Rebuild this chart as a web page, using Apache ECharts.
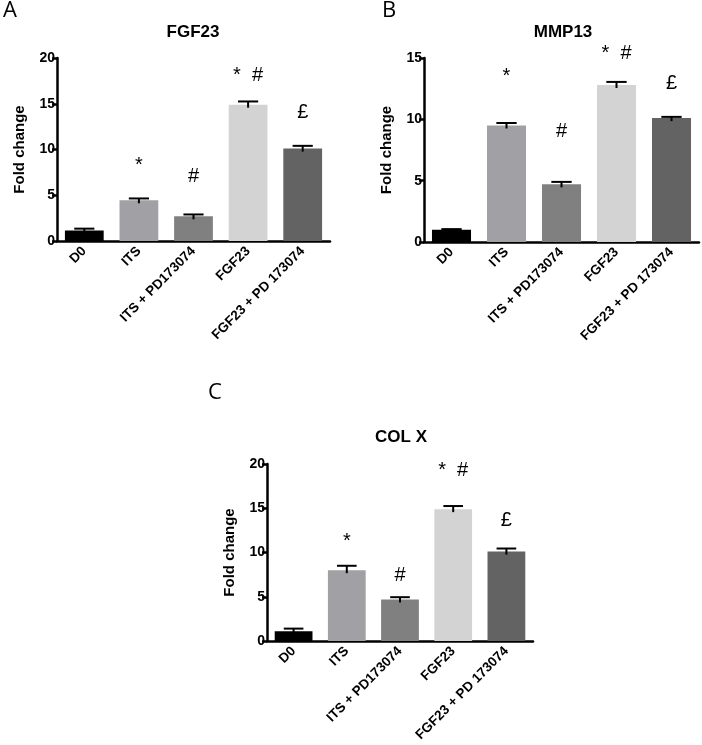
<!DOCTYPE html>
<html>
<head>
<meta charset="utf-8">
<script src="https://cdn.jsdelivr.net/npm/echarts@6/dist/echarts.min.js"></script>
<style>
html,body{margin:0;padding:0;background:#fff;}
#chart{width:702px;height:745px;}
</style>
</head>
<body>
<div id="chart"></div>
<script>
// ---- data ----
const categories = ['D0', 'ITS', 'ITS + PD173074', 'FGF23', 'FGF23 + PD 173074'];
const barColors = ['#000000', '#a1a1a5', '#808080', '#d3d3d3', '#636363'];

const fgf23Mean = [1.15, 4.45, 2.7, 14.9, 10.1];
const fgf23Err  = [0.2, 0.2, 0.2, 0.35, 0.3];
const fgf23Ann  = ['', '*', '#', '*  #', '£'];
const fgf23AnnY = [0, 8.3, 7.0, 18.1, 14.0];

const mmp13Mean = [1.0, 9.5, 4.7, 12.8, 10.1];
const mmp13Err  = [0.05, 0.2, 0.2, 0.25, 0.1];
const mmp13Ann  = ['', '*', '#', '*  #', '£'];
const mmp13AnnY = [0, 13.5, 9.0, 15.4, 12.9];

const colxMean = [1.1, 8.0, 4.7, 14.9, 10.1];
const colxErr  = [0.3, 0.5, 0.25, 0.35, 0.35];
const colxAnn  = ['', '*', '#', '*  #', '£'];
const colxAnnY = [0, 11.2, 7.4, 19.3, 13.6];

const yMaxA = 20, yIntA = 5;
const yMaxB = 15, yIntB = 5;
const yMaxC = 20, yIntC = 5;

// ---- build ----
const FONT = '"Liberation Sans", Arial, sans-serif';
const BAR_FRAC = 0.71;

function makeGrid(left, top, width, height) {
  return { left: left, top: top, width: width, height: height, containLabel: false };
}
function makeX(idx) {
  return {
    type: 'category', gridIndex: idx, data: categories,
    axisLine: { lineStyle: { color: '#000', width: 2.5 } },
    axisTick: { alignWithLabel: true, length: 5, lineStyle: { color: '#000', width: 2.5 } },
    axisLabel: { rotate: 45, color: '#000', fontFamily: FONT, fontWeight: 'bold', fontSize: 13.5, margin: 8, interval: 0 },
    splitLine: { show: false }
  };
}
function makeY(idx, max, interval) {
  return {
    type: 'value', gridIndex: idx, min: 0, max: max, interval: interval,
    name: 'Fold change', nameLocation: 'middle', nameGap: 30,
    nameTextStyle: { color: '#000', fontFamily: FONT, fontWeight: 'bold', fontSize: 15 },
    axisLine: { show: true, lineStyle: { color: '#000', width: 2.5 } },
    axisTick: { show: true, length: 5, lineStyle: { color: '#000', width: 2.5 } },
    axisLabel: { color: '#000', fontFamily: FONT, fontWeight: 'bold', fontSize: 14, margin: 2 },
    splitLine: { show: false }
  };
}
function barSeries(idx, means) {
  return {
    type: 'bar', xAxisIndex: idx, yAxisIndex: idx,
    barWidth: (BAR_FRAC * 100) + '%',
    data: means.map((v, i) => ({ value: v, itemStyle: { color: barColors[i] } })),
    silent: true, z: 2
  };
}
function errSeries(idx, means, errs) {
  return {
    type: 'custom', xAxisIndex: idx, yAxisIndex: idx, z: 3, silent: true,
    data: means.map((m, i) => [i, m, errs[i]]),
    renderItem: function (params, api) {
      const x = api.value(0), m = api.value(1), e = api.value(2);
      const top = api.coord([x, m + e]);
      const base = api.coord([x, m]);
      const bw = api.size([1, 0])[0] * BAR_FRAC;
      const hw = bw * 0.26;
      return {
        type: 'group',
        children: [
          { type: 'line', shape: { x1: top[0] - hw, y1: top[1], x2: top[0] + hw, y2: top[1] },
            style: { stroke: '#000', lineWidth: 2 } },
          { type: 'line', shape: { x1: top[0], y1: top[1], x2: base[0], y2: base[1] + 3 },
            style: { stroke: '#000', lineWidth: 2 } }
        ]
      };
    }
  };
}
function annSeries(idx, texts, ys) {
  return {
    type: 'custom', xAxisIndex: idx, yAxisIndex: idx, z: 4, silent: true, clip: false,
    data: texts.map((t, i) => [i, ys[i], t]),
    renderItem: function (params, api) {
      const i = params.dataIndex;
      const t = texts[i];
      if (!t) return null;
      const p = api.coord([api.value(0), api.value(1)]);
      return {
        type: 'text',
        style: { text: t, x: p[0], y: p[1], align: 'center', verticalAlign: 'middle',
                 fill: '#000', font: 'normal 20px ' + FONT }
      };
    }
  };
}

const chart = echarts.init(document.getElementById('chart'), null, { renderer: 'canvas' });
chart.setOption({
  backgroundColor: '#fff',
  animation: false,
  grid: [makeGrid(57, 58, 273, 183), makeGrid(424, 58, 275, 184), makeGrid(267, 464, 266, 177)],
  xAxis: [makeX(0), makeX(1), makeX(2)],
  yAxis: [makeY(0, yMaxA, yIntA), makeY(1, yMaxB, yIntB), makeY(2, yMaxC, yIntC)],
  graphic: [
    { type: 'text', left: 3, top: 0, style: { text: 'A', font: 'normal 22px "Open Sans", sans-serif', fill: '#000' } },
    { type: 'text', left: 382, top: 0, style: { text: 'B', font: 'normal 22px "Open Sans", sans-serif', fill: '#000' } },
    { type: 'text', left: 208, top: 382, style: { text: 'C', font: 'normal 22px "Open Sans", sans-serif', fill: '#000' } },
    { type: 'text', x: 193, y: 32, style: { text: 'FGF23', align: 'center', verticalAlign: 'middle', font: 'bold 17px ' + FONT, fill: '#000' } },
    { type: 'text', x: 563, y: 32, style: { text: 'MMP13', align: 'center', verticalAlign: 'middle', font: 'bold 17px ' + FONT, fill: '#000' } },
    { type: 'text', x: 401, y: 437, style: { text: 'COL X', align: 'center', verticalAlign: 'middle', font: 'bold 17px ' + FONT, fill: '#000' } }
  ],
  series: [
    barSeries(0, fgf23Mean), errSeries(0, fgf23Mean, fgf23Err), annSeries(0, fgf23Ann, fgf23AnnY),
    barSeries(1, mmp13Mean), errSeries(1, mmp13Mean, mmp13Err), annSeries(1, mmp13Ann, mmp13AnnY),
    barSeries(2, colxMean), errSeries(2, colxMean, colxErr), annSeries(2, colxAnn, colxAnnY)
  ]
});
</script>
</body>
</html>
